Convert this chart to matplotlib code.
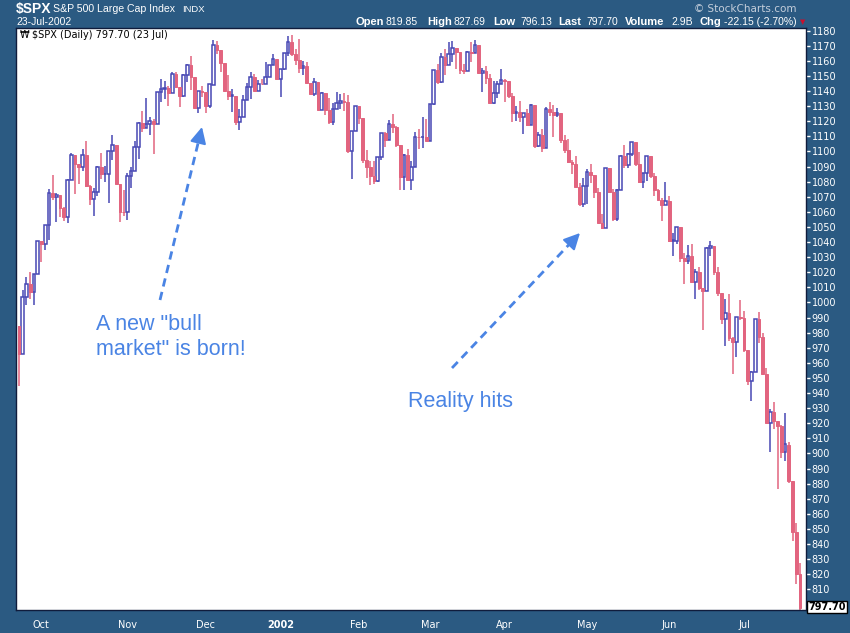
import matplotlib
matplotlib.use('Agg')
from matplotlib import pyplot as plt
from datetime import date

# trading days shown on the chart, per month
trading_days = [
    (2001, 9, [21, 24, 25, 26, 27, 28]),
    (2001, 10, [1, 2, 3, 4, 5, 8, 9, 10, 11, 12, 15, 16, 17, 18, 19, 22, 23, 24, 25, 26, 29, 30, 31]),
    (2001, 11, [1, 2, 5, 6, 7, 8, 9, 12, 13, 14, 15, 16, 19, 20, 21, 23, 26, 27, 28, 29, 30]),
    (2001, 12, [3, 4, 5, 6, 7, 10, 11, 12, 13, 14, 17, 18, 19, 20, 21, 24, 26, 27, 28, 31]),
    (2002, 1, [2, 3, 4, 7, 8, 9, 10, 11, 14, 15, 16, 17, 18, 22, 23, 24, 25, 28, 29, 30, 31]),
    (2002, 2, [1, 4, 5, 6, 7, 8, 11, 12, 13, 14, 15, 19, 20, 21, 22, 25, 26, 27, 28]),
    (2002, 3, [1, 4, 5, 6, 7, 8, 11, 12, 13, 14, 15, 18, 19, 20, 21, 22, 25, 26, 27, 28]),
    (2002, 4, [1, 2, 3, 4, 5, 8, 9, 10, 11, 12, 15, 16, 17, 18, 19, 22, 23, 24, 25, 26, 29, 30]),
    (2002, 5, [1, 2, 3, 6, 7, 8, 9, 10, 13, 14, 15, 16, 17, 20, 21, 22, 23, 24, 28, 29, 30, 31]),
    (2002, 6, [3, 4, 5, 6, 7, 10, 11, 12, 13, 14, 17, 18, 19, 20, 21, 24, 25, 26, 27, 28]),
    (2002, 7, [1, 2, 3, 5, 8, 9, 10, 11, 12, 15, 16, 17, 18, 19, 22, 23]),
]

opens = [
    984.54, 965.80, 1003.45, 1012.27, 1007.04, 1018.61,
    1040.94, 1038.55, 1051.33, 1072.28, 1069.63, 1071.37, 1062.44, 1056.75, 1080.99, 1097.43, 1091.65, 1089.98,
    1097.54, 1077.09, 1068.61, 1073.48, 1089.90, 1084.78, 1085.20, 1100.09, 1104.61, 1078.30, 1059.79,
    1059.78, 1084.10, 1087.20, 1102.84, 1118.86, 1115.80, 1118.54, 1120.31, 1118.33, 1139.09, 1141.21, 1142.24,
    1138.65, 1151.06, 1142.66, 1137.03, 1150.34, 1157.42, 1149.50, 1128.52, 1140.20,
    1139.45, 1129.90, 1143.77, 1170.35, 1167.10, 1158.31, 1139.93, 1136.76, 1137.07, 1119.38, 1123.09, 1134.36,
    1142.92, 1149.56, 1139.93, 1144.89, 1144.65, 1149.37, 1157.13, 1161.02,
    1148.08, 1154.67, 1165.27, 1172.51, 1164.89, 1160.71, 1155.14, 1156.55, 1145.60, 1138.41, 1146.19, 1127.57,
    1138.88, 1127.58, 1119.31, 1128.18, 1132.15, 1133.28, 1133.06, 1100.64, 1113.57,
    1130.20, 1122.20, 1094.44, 1090.02, 1083.51, 1080.17, 1096.22, 1111.94, 1107.50, 1118.51, 1116.48, 1104.18,
    1083.34, 1097.98, 1080.95, 1089.84, 1109.43, 1109.38, 1109.89,
    1106.73, 1131.78, 1153.84, 1146.14, 1162.77, 1157.54, 1164.31, 1168.26, 1165.58, 1154.09, 1153.04, 1166.16,
    1165.55, 1170.29, 1151.85, 1153.59, 1148.70, 1131.87, 1138.49, 1144.58,
    1147.39, 1146.54, 1136.76, 1125.40, 1126.34, 1122.73, 1125.29, 1117.80, 1130.47, 1103.69, 1111.01, 1102.55,
    1128.37, 1126.07, 1124.47, 1125.17, 1107.83, 1100.96, 1093.14, 1091.48, 1076.32, 1065.45,
    1076.92, 1086.46, 1084.56, 1073.43, 1052.67, 1049.49, 1088.85, 1073.01, 1054.99, 1074.56, 1097.28, 1091.07,
    1098.23, 1106.59, 1091.88, 1079.88, 1086.02, 1097.08, 1083.82, 1074.55, 1067.66, 1064.66,
    1067.14, 1040.68, 1040.69, 1049.90, 1029.15, 1027.53, 1030.74, 1013.26, 1020.26, 1009.56, 1007.27, 1036.17,
    1037.14, 1019.99, 1006.29, 989.14, 992.72, 976.14, 973.53, 990.64,
    989.82, 968.65, 948.09, 953.99, 989.03, 976.98, 952.83, 920.47, 927.37, 921.39, 917.93, 901.05,
    905.45, 881.56, 847.76, 819.85,
]

highs = [
    984.54, 1008.44, 1017.14, 1020.29, 1018.92, 1040.94,
    1040.94, 1051.33, 1075.38, 1084.12, 1072.35, 1071.37, 1063.37, 1081.62, 1099.16, 1097.43, 1091.65, 1101.66,
    1107.12, 1077.94, 1075.52, 1090.57, 1098.99, 1090.26, 1100.09, 1110.61, 1104.61, 1078.30, 1074.79,
    1085.61, 1089.63, 1106.72, 1119.73, 1126.62, 1135.75, 1123.02, 1121.71, 1139.14, 1148.28, 1146.46, 1143.52,
    1152.44, 1152.45, 1142.66, 1151.05, 1157.88, 1163.38, 1149.50, 1140.40, 1143.57,
    1139.45, 1144.80, 1173.62, 1173.35, 1167.10, 1158.31, 1150.89, 1141.58, 1137.07, 1128.28, 1137.30, 1145.10,
    1152.44, 1151.42, 1147.46, 1147.83, 1159.18, 1157.13, 1164.64, 1161.16,
    1154.67, 1165.27, 1176.55, 1176.97, 1167.60, 1174.26, 1159.93, 1159.41, 1145.60, 1148.81, 1146.19, 1139.27,
    1138.88, 1135.26, 1131.94, 1139.50, 1138.31, 1138.63, 1137.47, 1113.79, 1130.21,
    1130.20, 1122.20, 1100.96, 1093.58, 1094.03, 1096.30, 1112.01, 1112.68, 1120.56, 1124.72, 1117.09, 1104.18,
    1098.32, 1101.50, 1093.93, 1112.71, 1115.05, 1123.06, 1121.57,
    1131.79, 1153.84, 1157.74, 1165.29, 1167.94, 1172.76, 1173.03, 1168.26, 1165.58, 1157.83, 1166.48, 1172.73,
    1173.94, 1170.29, 1155.10, 1156.49, 1151.04, 1147.00, 1146.95, 1154.45,
    1147.84, 1146.54, 1138.85, 1130.45, 1133.31, 1125.41, 1128.29, 1131.76, 1130.47, 1112.77, 1114.86, 1129.40,
    1133.00, 1130.49, 1128.82, 1125.17, 1111.17, 1108.46, 1094.36, 1096.77, 1078.95, 1082.62,
    1088.32, 1091.42, 1084.56, 1075.96, 1058.67, 1088.92, 1088.85, 1075.43, 1074.84, 1097.71, 1104.23, 1099.29,
    1106.59, 1106.59, 1099.55, 1086.02, 1097.10, 1097.08, 1085.98, 1074.83, 1069.50, 1079.93,
    1070.74, 1046.06, 1050.11, 1049.90, 1033.02, 1038.18, 1039.04, 1021.85, 1023.47, 1009.56, 1036.48, 1040.83,
    1037.61, 1023.33, 1006.29, 1002.11, 1005.88, 977.43, 990.67, 1001.79,
    994.46, 968.65, 954.30, 989.07, 993.56, 979.63, 956.34, 929.16, 934.31, 921.39, 918.65, 926.52,
    907.80, 881.56, 854.13, 827.69,
]

lows = [
    944.75, 965.80, 998.33, 1002.62, 998.24, 1018.61,
    1026.76, 1034.47, 1041.48, 1067.82, 1053.50, 1056.88, 1053.83, 1052.76, 1080.99, 1072.15, 1078.19, 1087.13,
    1076.57, 1064.54, 1057.24, 1070.79, 1081.53, 1079.98, 1065.64, 1094.24, 1078.30, 1053.61, 1057.55,
    1054.31, 1075.58, 1087.20, 1095.36, 1112.98, 1115.42, 1111.13, 1098.32, 1118.33, 1132.87, 1135.06, 1129.92,
    1138.65, 1142.17, 1129.78, 1135.90, 1146.17, 1140.81, 1128.29, 1125.51, 1135.89,
    1125.78, 1128.86, 1143.77, 1164.43, 1152.66, 1139.66, 1134.32, 1126.01, 1117.85, 1114.53, 1122.66, 1134.36,
    1134.75, 1139.93, 1139.93, 1144.62, 1144.65, 1149.37, 1157.13, 1148.04,
    1136.23, 1154.01, 1163.42, 1163.55, 1157.46, 1151.89, 1150.85, 1145.45, 1138.15, 1136.88, 1127.49, 1127.57,
    1124.45, 1117.91, 1117.43, 1128.18, 1127.82, 1126.66, 1098.74, 1081.66, 1113.30,
    1118.51, 1092.25, 1082.58, 1077.78, 1078.44, 1079.91, 1094.68, 1102.98, 1107.50, 1112.30, 1103.23, 1074.36,
    1074.36, 1080.24, 1074.39, 1089.84, 1101.72, 1102.26, 1106.73,
    1106.73, 1130.93, 1144.78, 1145.11, 1150.69, 1157.54, 1159.58, 1154.34, 1151.01, 1151.08, 1153.04, 1159.14,
    1165.55, 1151.61, 1139.48, 1144.60, 1131.87, 1131.61, 1135.33, 1144.58,
    1132.87, 1135.71, 1119.68, 1120.06, 1119.49, 1111.79, 1116.73, 1117.80, 1102.42, 1102.74, 1099.41, 1102.55,
    1123.37, 1109.29, 1122.59, 1105.62, 1098.94, 1092.51, 1084.81, 1076.31, 1063.62, 1063.46,
    1065.29, 1079.46, 1068.89, 1052.65, 1048.96, 1049.49, 1072.23, 1053.93, 1053.90, 1074.56, 1088.94, 1089.17,
    1096.77, 1090.61, 1079.08, 1075.64, 1080.55, 1082.19, 1070.31, 1067.66, 1054.26, 1064.66,
    1039.90, 1030.52, 1038.84, 1026.91, 1012.49, 1025.45, 1012.94, 1002.58, 1008.12, 981.63, 1007.27, 1030.92,
    1017.88, 1004.59, 985.65, 970.85, 974.21, 952.92, 963.74, 988.31,
    967.43, 945.54, 934.87, 953.99, 972.91, 951.71, 920.29, 900.94, 915.94, 876.46, 897.13, 895.03,
    880.60, 842.07, 813.26, 796.13,
]

closes = [
    965.80, 1003.45, 1012.27, 1007.04, 1018.61, 1040.94,
    1038.55, 1051.33, 1072.28, 1069.63, 1071.38, 1062.44, 1056.75, 1080.99, 1097.43, 1091.65, 1089.98, 1097.54,
    1077.09, 1068.61, 1073.48, 1089.90, 1084.78, 1085.20, 1100.09, 1104.61, 1078.30, 1059.79, 1059.78,
    1084.10, 1087.20, 1102.84, 1118.86, 1115.80, 1118.54, 1120.31, 1118.33, 1139.09, 1141.21, 1142.24, 1138.65,
    1151.06, 1142.66, 1137.03, 1150.34, 1157.42, 1149.50, 1128.52, 1140.20, 1139.45,
    1129.90, 1144.80, 1170.35, 1167.10, 1158.31, 1139.93, 1136.76, 1137.07, 1119.38, 1123.09, 1134.36, 1142.92,
    1149.56, 1139.93, 1144.89, 1144.65, 1149.37, 1157.13, 1161.02, 1148.08,
    1154.67, 1165.27, 1172.51, 1164.89, 1160.71, 1155.14, 1156.55, 1145.60, 1138.41, 1146.19, 1127.57, 1138.88,
    1127.58, 1119.31, 1128.18, 1132.15, 1133.28, 1133.06, 1100.64, 1113.57, 1130.20,
    1122.20, 1094.44, 1090.02, 1083.51, 1080.17, 1096.22, 1111.94, 1107.50, 1118.51, 1116.48, 1104.18, 1083.34,
    1097.98, 1080.95, 1089.84, 1109.43, 1109.38, 1109.89, 1106.73,
    1131.78, 1153.84, 1146.14, 1162.77, 1157.54, 1164.31, 1168.26, 1165.58, 1154.09, 1153.04, 1166.16, 1165.55,
    1170.29, 1151.85, 1153.59, 1148.70, 1131.87, 1138.49, 1144.58, 1147.39,
    1146.54, 1136.76, 1125.40, 1126.34, 1122.73, 1125.29, 1117.80, 1130.47, 1103.69, 1111.01, 1102.55, 1128.37,
    1126.07, 1124.47, 1125.17, 1107.83, 1100.96, 1093.14, 1091.48, 1076.32, 1065.45, 1076.92,
    1086.46, 1084.56, 1073.43, 1052.67, 1049.49, 1088.85, 1073.01, 1054.99, 1074.56, 1097.28, 1091.07, 1098.23,
    1106.59, 1091.88, 1079.88, 1086.02, 1097.08, 1083.82, 1074.55, 1067.66, 1064.66, 1067.14,
    1040.68, 1040.69, 1049.90, 1029.15, 1027.53, 1030.74, 1013.60, 1020.26, 1009.56, 1007.27, 1036.17, 1037.14,
    1019.99, 1006.29, 989.14, 992.72, 976.14, 973.53, 990.64, 989.82,
    968.65, 948.09, 953.99, 989.03, 976.98, 952.83, 920.47, 927.37, 921.39, 917.93, 900.94, 906.04,
    881.56, 847.75, 819.85, 797.70,
]

month_labels = ['Oct', 'Nov', 'Dec', '2002', 'Feb', 'Mar', 'Apr', 'May', 'Jun', 'Jul']
price_ticks = list(range(810, 1190, 10))

FRAME = '#2b5a82'
UP = '#4848b4'
DOWN = '#e2647f'
NOTE = '#4a84e4'

W, H = 850, 633


def fx(px):
    return px / W


def fy(py):
    return 1 - py / H


dates = [date(y, m, d) for y, m, days in trading_days for d in days]
xs = list(range(len(dates)))
month_starts = [i for i in xs if i == 0 or dates[i].month != dates[i - 1].month][1:]

fig = plt.figure(figsize=(W / 100, H / 100), dpi=100, facecolor=FRAME)
ax = fig.add_axes([fx(16), fy(610), fx(806) - fx(16), fy(28) - fy(610)])
ax.set_facecolor('white')

up = [i for i in xs if closes[i] >= opens[i]]
dn = [i for i in xs if closes[i] < opens[i]]

ax.vlines(up, [lows[i] for i in up], [highs[i] for i in up], color=UP, lw=1.1, zorder=2)
ax.vlines(dn, [lows[i] for i in dn], [highs[i] for i in dn], color=DOWN, lw=1.1, zorder=2)
ax.bar(up, [max(closes[i] - opens[i], 0.4) for i in up], bottom=[opens[i] for i in up],
       width=0.74, facecolor='white', edgecolor=UP, lw=1.1, zorder=3)
ax.bar(dn, [opens[i] - closes[i] for i in dn], bottom=[closes[i] for i in dn],
       width=0.74, facecolor=DOWN, edgecolor=DOWN, lw=0.7, zorder=3)

ax.set_xlim(-0.8, len(xs) - 1 + 1.6)
ax.set_ylim(796.3, 1181.8)

ax.yaxis.tick_right()
ax.set_yticks(price_ticks)
ax.set_yticklabels([str(v) for v in price_ticks])
ax.tick_params(axis='y', colors='white', labelsize=7, length=3, width=1, pad=1)
ax.set_xticks(month_starts)
ax.set_xticklabels(month_labels)
ax.tick_params(axis='x', colors='white', labelsize=7, length=0, pad=7)
for lab in ax.get_xticklabels():
    if lab.get_text() == '2002':
        lab.set_fontweight('bold')
for s in ax.spines.values():
    s.set_color('#101c3c')
    s.set_linewidth(1)

# header
fig.text(fx(16), fy(9), '$SPX', color='white', fontsize=10, fontweight='bold',
         family='Liberation Sans', va='center')
fig.text(fx(53), fy(9), 'S&P 500 Large Cap Index', color='white', fontsize=7.6,
         family='Liberation Sans', va='center')
fig.text(fx(182), fy(9), 'INDX', color='white', fontsize=6.8, family='Liberation Sans', va='center')
fig.text(fx(16), fy(22), '23-Jul-2002', color='white', fontsize=7.5, family='Liberation Sans', va='center')
fig.text(fx(797), fy(9), '\u00a9 StockCharts.com', color='#c4cedb', fontsize=7.5,
         family='DejaVu Sans', va='center', ha='right')

quote = [(356, 'Open', True), (385, '819.85', False), (427, 'High', True), (454, '827.69', False),
         (493, 'Low', True), (520, '796.13', False), (558, 'Last', True), (586, '797.70', False),
         (625, 'Volume', True), (671, '2.9B', False), (699, 'Chg', True), (724, '-22.15 (-2.70%)', False)]
for px, txt, bold in quote:
    fig.text(fx(px), fy(22), txt, color='white', fontsize=8 if bold else 7.5, family='Liberation Sans',
             fontweight='bold' if bold else 'normal', va='center')
fig.text(fx(803), fy(22), '\u25bc', color='#c8102e', fontsize=5, va='center', ha='center')

# legend line inside the plot
fig.text(fx(32), fy(35), '$SPX (Daily) 797.70 (23 Jul)', color='black', fontsize=7,
         family='DejaVu Sans', va='center')
fig.text(fx(20), fy(35), '\u20a9', color='black', fontsize=7, family='DejaVu Sans', va='center')

# last price tag
fig.text(fx(808), fy(607), '797.70', color='black', fontsize=7, fontweight='bold',
         family='DejaVu Sans', va='center',
         bbox=dict(boxstyle='square,pad=0.12', fc='white', ec='black', lw=1))

# annotations
fig.text(fx(96), fy(330), 'A new "bull', color=NOTE, fontsize=15.5, family='Liberation Sans', va='baseline')
fig.text(fx(96), fy(355), 'market" is born!', color=NOTE, fontsize=15.5, family='Liberation Sans', va='baseline')
fig.text(fx(408), fy(407), 'Reality hits', color=NOTE, fontsize=15.5, family='Liberation Sans', va='baseline')

for tail, tip in [((160, 300), (202, 127)), ((452, 368), (580, 233))]:
    tx, ty = tail
    hx, hy = tip
    bx = tx + (hx - tx) * 0.93
    by = ty + (hy - ty) * 0.93
    fig.add_artist(plt.Line2D([fx(tx), fx(bx)], [fy(ty), fy(by)], color=NOTE, lw=2,
                              ls=(0, (3, 2)), transform=fig.transFigure))
    ax.annotate('', xy=(fx(hx), fy(hy)), xytext=(fx(bx), fy(by)),
                xycoords='figure fraction', textcoords='figure fraction',
                arrowprops=dict(arrowstyle='-|>,head_length=0.7,head_width=0.35', color=NOTE,
                                lw=1.5, shrinkA=0, shrinkB=0, mutation_scale=14))

fig.savefig('out.png', dpi=100, facecolor=FRAME)
